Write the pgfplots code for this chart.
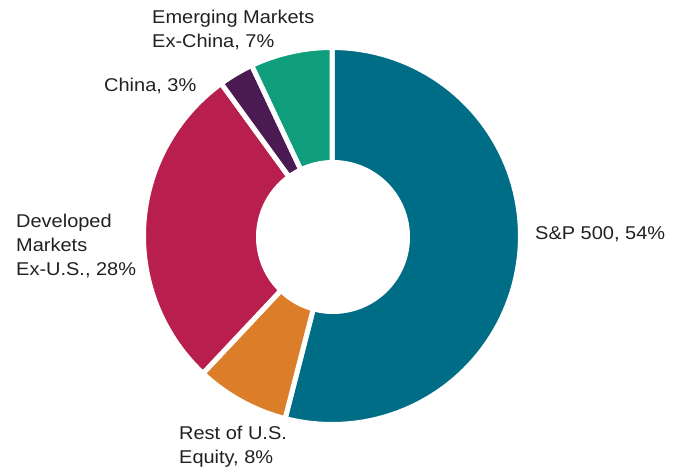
\documentclass[border=0pt]{standalone}
\usepackage{fontspec}
\setmainfont{Liberation Sans}[FakeStretch=1.08]
\usepackage{pgfplots}
\pgfplotsset{compat=1.18}

\definecolor{cSP}{HTML}{006D87}
\definecolor{cRest}{HTML}{DB7D29}
\definecolor{cDev}{HTML}{B81F4F}
\definecolor{cChina}{HTML}{4B1A52}
\definecolor{cEM}{HTML}{0E9E7C}

% shares (%): S&P 500 54, Rest of U.S. 8, Developed ex-U.S. 28, China 3, EM ex-China 7
% slices run clockwise from 12 o'clock, 3.6 degrees per percent

\begin{document}
\begin{tikzpicture}
\begin{axis}[
    width=681pt, height=472pt,
    scale only axis,
    xmin=0, xmax=681, ymin=0, ymax=472,
    axis lines=none,
    clip=false,
    variable=\t,
    samples=90,
    wedge/.style={fill=#1, draw=white, line width=5pt, line join=miter},
  ]
% keep the full frame as the bounding box
\path (rel axis cs:0,0) rectangle (rel axis cs:1,1);
% S&P 500, 54
\addplot[wedge=cSP, domain={90-3.6*54}:90] ({332+188.5*cos(t)}, {236+188.5*sin(t)}) -- (axis cs:332,236) -- cycle;
% Rest of U.S. Equity, 8
\addplot[wedge=cRest, domain={90-3.6*62}:{90-3.6*54}] ({332+188.5*cos(t)}, {236+188.5*sin(t)}) -- (axis cs:332,236) -- cycle;
% Developed Markets ex-U.S., 28
\addplot[wedge=cDev, domain={450-3.6*90}:{450-3.6*62}] ({332+188.5*cos(t)}, {236+188.5*sin(t)}) -- (axis cs:332,236) -- cycle;
% China, 3
\addplot[wedge=cChina, domain={450-3.6*93}:{450-3.6*90}] ({332+188.5*cos(t)}, {236+188.5*sin(t)}) -- (axis cs:332,236) -- cycle;
% Emerging Markets ex-China, 7
\addplot[wedge=cEM, domain=90:{450-3.6*93}] ({332+188.5*cos(t)}, {236+188.5*sin(t)}) -- (axis cs:332,236) -- cycle;
% hole
\addplot[fill=white, draw=none, domain=0:360, samples=180] ({333+77*cos(t)}, {235+77*sin(t)}) -- cycle;

\begin{scope}[every node/.style={anchor=base west, inner sep=0pt, font=\fontsize{18.5}{24}\selectfont, text=black!87}]
\node at (axis cs:152,448) {Emerging Markets};
\node at (axis cs:152,424) {Ex-China, 7\%};
\node at (axis cs:104,380) {China, 3\%};
\node at (axis cs:16,244) {Developed};
\node at (axis cs:16,220) {Markets};
\node at (axis cs:16,196) {Ex-U.S., 28\%};
\node at (axis cs:535,232) {S\&P 500, 54\%};
\node at (axis cs:179,33) {Rest of U.S.};
\node at (axis cs:179,9) {Equity, 8\%};
\end{scope}
\end{axis}
\end{tikzpicture}
\end{document}
